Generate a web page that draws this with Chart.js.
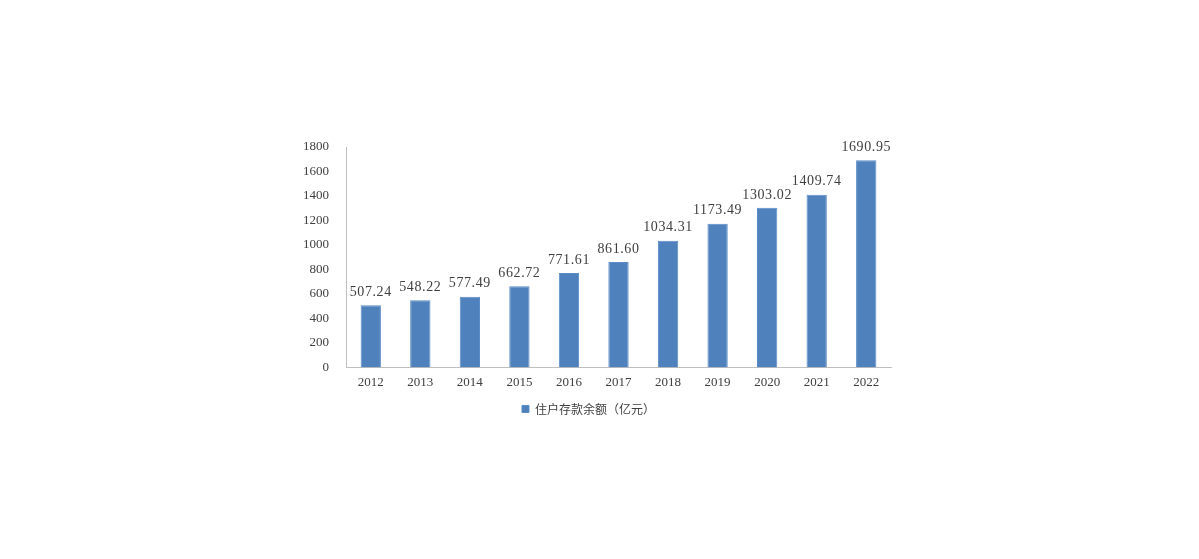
<!DOCTYPE html>
<html>
<head>
<meta charset="utf-8">
<script src="https://cdn.jsdelivr.net/npm/chart.js@4/dist/chart.umd.min.js"></script>
<style>
  html, body { margin: 0; padding: 0; background: #fff; }
  #wrap { width: 1199px; height: 559px; }
</style>
</head>
<body>
<div id="wrap"><canvas id="chart"></canvas></div>
<script>
// ---------- Data ----------
const years = ['2012', '2013', '2014', '2015', '2016', '2017', '2018', '2019', '2020', '2021', '2022'];
const deposits = [507.24, 548.22, 577.49, 662.72, 771.61, 861.60, 1034.31, 1173.49, 1303.02, 1409.74, 1690.95];
const seriesName = '住户存款余额（亿元）';

// value labels above each bar, placed from the bar elements
const barLabels = {
    id: 'barLabels',
    afterDatasetsDraw(chart) {
        const ctx = chart.ctx;
        const meta = chart.getDatasetMeta(0);
        ctx.save();
        ctx.font = '14px "Liberation Serif", serif';
        ctx.letterSpacing = '0.6px';
        ctx.fillStyle = '#404040';
        ctx.textAlign = 'center';
        ctx.textBaseline = 'bottom';
        meta.data.forEach((bar, i) => {
            ctx.fillText(deposits[i].toFixed(2), bar.x, bar.y - 6);
        });
        ctx.restore();
    }
};

const tickFont = { family: '"Liberation Serif", serif', size: 13 };

new Chart(document.getElementById('chart'), {
    type: 'bar',
    data: {
        labels: years,
        datasets: [{
            label: seriesName,
            data: deposits,
            backgroundColor: '#4F81BD',
            borderColor: '#5B8CC6',
            borderWidth: 1,
            barPercentage: 0.41,
            categoryPercentage: 1
        }]
    },
    options: {
        responsive: true,
        maintainAspectRatio: false,
        animation: false,
        layout: { padding: { left: 286, right: 308, top: 147, bottom: 134 } },
        plugins: {
            legend: {
                position: 'bottom',
                labels: {
                    boxWidth: 7,
                    boxHeight: 7,
                    padding: 6,
                    color: '#404040',
                    font: { family: '"Noto Sans CJK SC", sans-serif', size: 12 }
                }
            },
            tooltip: { enabled: false }
        },
        scales: {
            x: {
                grid: { display: false, drawTicks: false },
                border: { display: true, color: '#BFBFBF' },
                ticks: { color: '#404040', font: tickFont, padding: 7 }
            },
            y: {
                min: 0,
                max: 1800,
                grid: { display: false, drawTicks: false },
                border: { display: true, color: '#BFBFBF' },
                ticks: {
                    stepSize: 200,
                    color: '#404040',
                    font: tickFont,
                    padding: 17,
                    callback: v => String(v)
                }
            }
        }
    },
    plugins: [barLabels]
});
</script>
</body>
</html>
